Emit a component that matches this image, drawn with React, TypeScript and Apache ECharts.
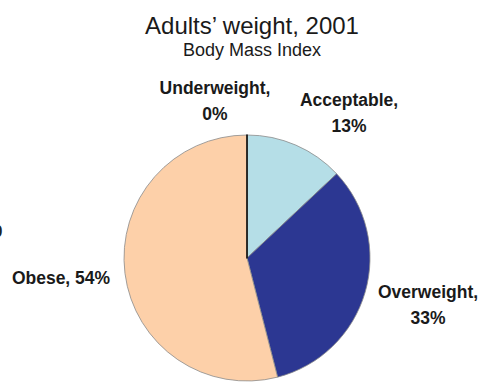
import React, { useEffect, useRef } from "react";
import * as echarts from "echarts";

const titleText = "Adults’ weight, 2001";
const subtitleText = "Body Mass Index";
const categories = ["Acceptable", "Overweight", "Obese", "Underweight"];
const values = [13, 33, 54, 0];
const colors = ["#B5DEE7", "#2C3792", "#FDD0A9", "#000000"];
const oneLineLabel = [false, false, true, false];
const labelAnchors: [number, number][] = [
  [349, 113],
  [428, 305],
  [61, 278],
  [215, 101],
];

export default function App() {
  const ref = useRef<HTMLDivElement>(null);
  useEffect(() => {
    if (!ref.current) return;
    const chart = echarts.init(ref.current, null, { renderer: "svg" });
    chart.setOption({
      animation: false,
      backgroundColor: "#ffffff",
      title: {
        text: titleText,
        subtext: subtitleText,
        left: 247,
        textAlign: "center",
        top: 8,
        itemGap: 4,
        textStyle: { fontFamily: "Liberation Sans", fontWeight: "normal", fontSize: 24, color: "#1a1a1a" },
        subtextStyle: { fontFamily: "Liberation Sans", fontSize: 18, color: "#1a1a1a" },
      },
      graphic: [
        {
          type: "text",
          x: -7,
          y: 231,
          style: { text: "0", font: "bold 17px 'Liberation Sans'", fill: "#222", verticalAlign: "middle" },
        },
      ],
      series: [
        {
          type: "pie",
          center: [247, 258],
          radius: 123,
          startAngle: 90,
          clockwise: true,
          percentPrecision: 0,
          avoidLabelOverlap: false,
          labelLine: { show: false },
          itemStyle: { borderColor: "#8a8a8a", borderWidth: 0.8 },
          label: {
            show: true,
            position: "outside",
            fontFamily: "Liberation Sans",
            fontWeight: "bold",
            fontSize: 17.5,
            lineHeight: 26,
            color: "#1a1a1a",
            align: "center",
            formatter: (p: any) =>
              oneLineLabel[p.dataIndex] ? `${p.name}, ${p.percent}%` : `${p.name},\n${p.percent}%`,
          },
          labelLayout: (p: any) => ({
            x: labelAnchors[p.dataIndex][0],
            y: labelAnchors[p.dataIndex][1],
            align: "center",
            verticalAlign: "middle",
          }),
          data: categories.map((c, i) => ({
            name: c,
            value: values[i],
            itemStyle: {
              color: colors[i],
              borderColor: values[i] === 0 ? "#000000" : "#8a8a8a",
              borderWidth: values[i] === 0 ? 1.5 : 0.8,
            },
          })),
        },
      ],
    });
    return () => chart.dispose();
  }, []);
  return <div ref={ref} style={{ width: 482, height: 383, position: "absolute", left: 0, top: 0 }} />;
}
